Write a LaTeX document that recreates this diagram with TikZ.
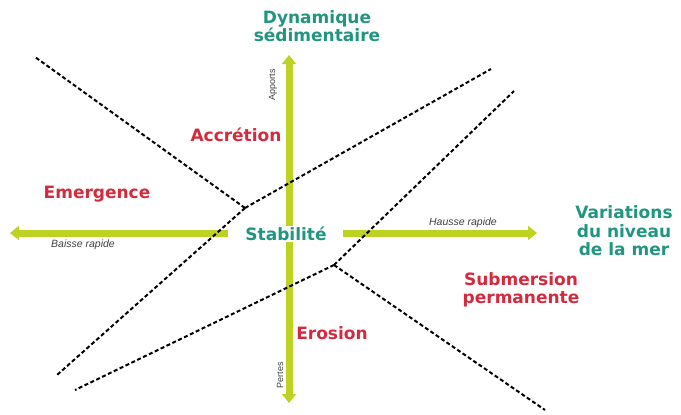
\documentclass[tikz,border=0pt]{standalone}
\usepackage{fontspec}
\setmainfont{DejaVu Sans}
\newfontfamily\petite{Liberation Sans}
\usetikzlibrary{arrows.meta}
\definecolor{vertaxe}{RGB}{190,210,35}
\definecolor{bleuvert}{RGB}{32,150,128}
\definecolor{rouge}{RGB}{212,42,62}

\begin{document}
\begin{tikzpicture}[x=1pt,y=-1pt,>={Triangle[width=14pt,length=9pt]},
    titre/.style={font=\fontsize{17}{18.5}\selectfont\bfseries,align=center,inner sep=1pt},
    zone/.style={titre,text=rouge},
    repere/.style={titre,text=bleuvert},
    petit/.style={font=\fontsize{10.5}{12}\selectfont\petite\itshape,text=black!75,inner sep=1pt},
    vertical/.style={font=\fontsize{9}{10}\selectfont\petite,text=black!75,inner sep=1pt,rotate=90},
    axe/.style={->,line width=7pt,draw=vertaxe},
    limite/.style={dash pattern=on 4pt off 2.5pt,line width=2pt}]
    \useasboundingbox (0,0) rectangle (681,415);
    % axes
    \node[repere] (stab) at (286,234) {Stabilité};
    \coordinate (haut) at (289,55);
    \coordinate (bas) at (289,403);
    \coordinate (gA) at (228,233); \coordinate (gB) at (10,233);
    \coordinate (dA) at (343,233); \coordinate (dB) at (537,233);
    \draw[axe] (stab.north -| haut) -- (haut);
    \draw[axe] (stab.south -| bas) -- (bas);
    \draw[axe] (gA) -- (gB);
    \draw[axe] (dA) -- (dB);
    % limites
    \coordinate (A) at (245,208);
    \coordinate (B) at (334,265);
    \foreach \p in {(35,57),(491,69),(57,375)}{\draw[limite] (A) -- \p;}
    \foreach \p in {(75,390),(514,91),(545,410)}{\draw[limite] (B) -- \p;}
    % textes
    \node[repere] (dyn) at (317,26) {Dynamique\\sédimentaire};
    \node[repere] (niv) at (624,231) {Variations\\du niveau\\de la mer};
    \node[zone] (accr) at (236,135) {Accrétion};
    \node[zone] (emer) at (97,194) {Emergence};
    \node[zone] (subm) at (521,290) {Submersion\\permanente};
    \node[zone] (eros) at (332,333) {Erosion};
    \node[petit] (baisse) at (83,245) {Baisse rapide};
    \node[petit] (hausse) at (463,223) {Hausse rapide};
    \node[vertical] (app) at (273,85) {Apports};
    \node[vertical] (pert) at (280,375) {Pertes};
\end{tikzpicture}
\end{document}
